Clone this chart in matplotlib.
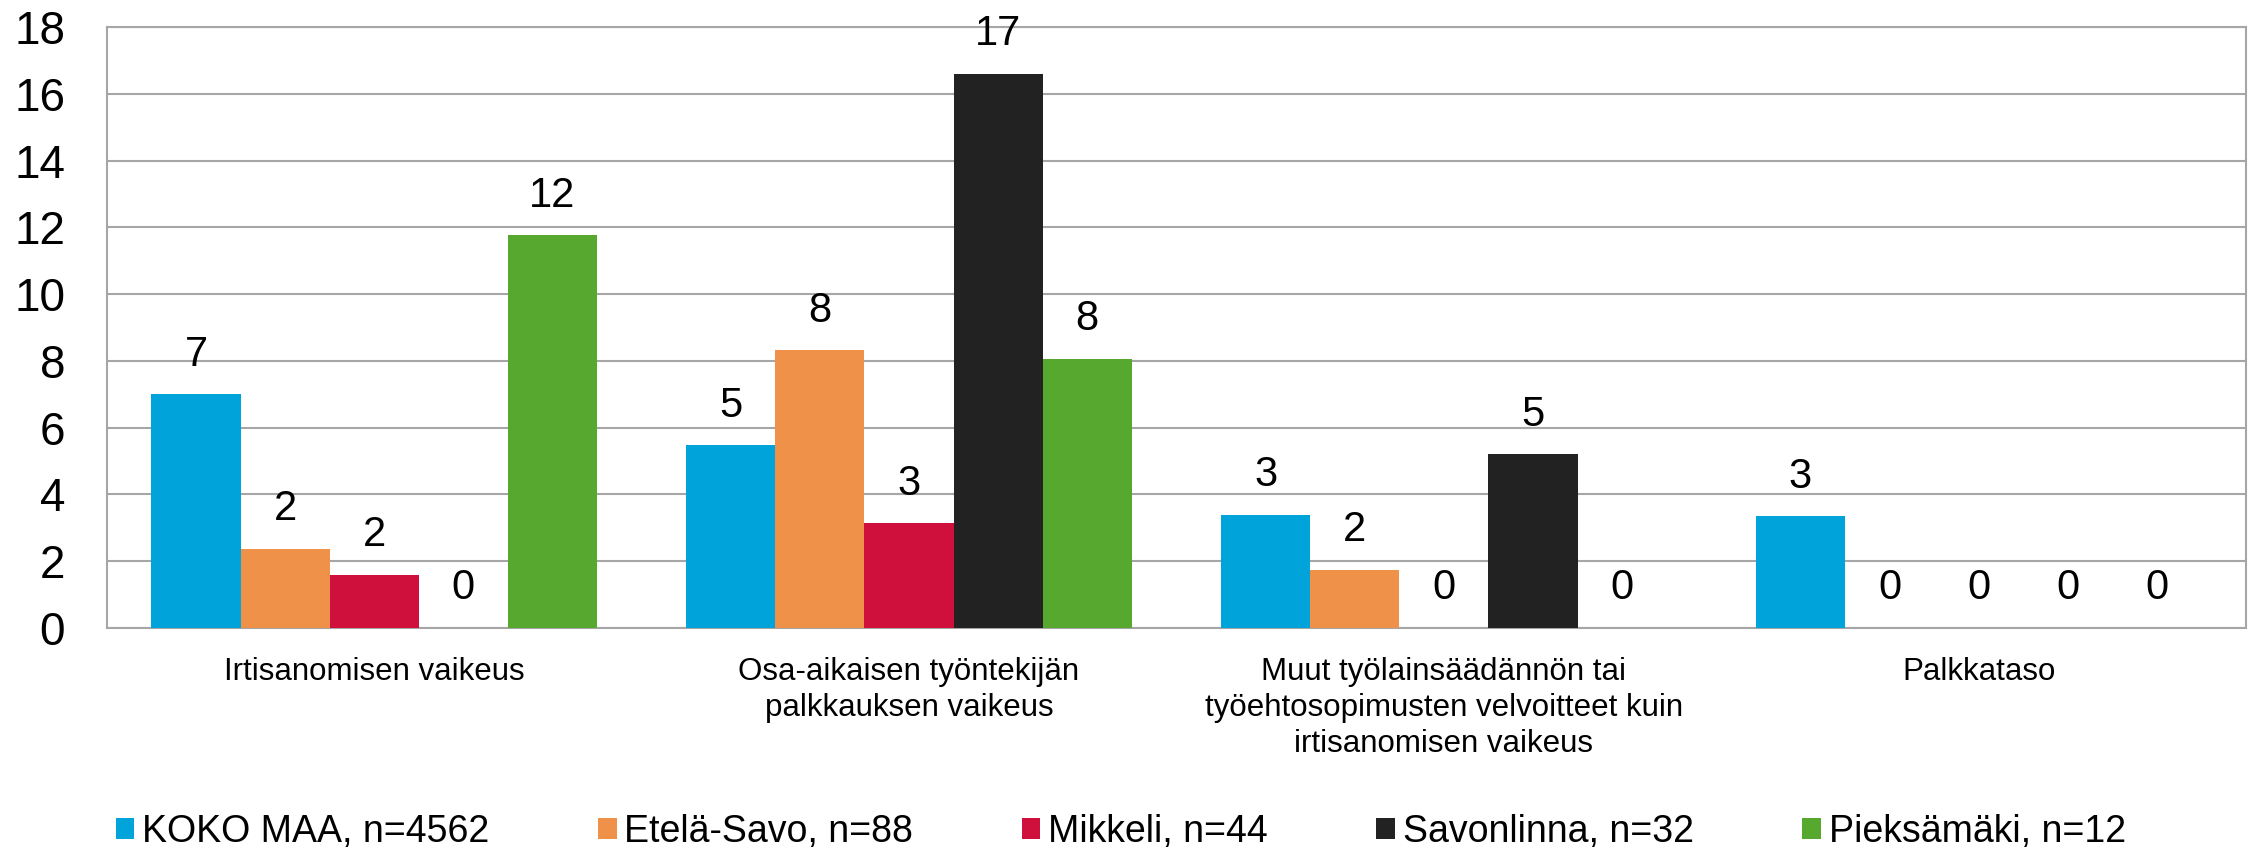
import numpy as np
import matplotlib
matplotlib.use("Agg")
import matplotlib.pyplot as plt

categories = [
    "Irtisanomisen vaikeus",
    "Osa-aikaisen työntekijän\npalkkauksen vaikeus",
    "Muut työlainsäädännön tai\ntyöehtosopimusten velvoitteet kuin\nirtisanomisen vaikeus",
    "Palkkataso",
]
series_names = [
    "KOKO MAA, n=4562",
    "Etelä-Savo, n=88",
    "Mikkeli, n=44",
    "Savonlinna, n=32",
    "Pieksämäki, n=12",
]
koko_maa = [7.0, 5.47, 3.39, 3.34]
etela_savo = [2.37, 8.33, 1.75, 0.0]
mikkeli = [1.59, 3.14, 0.0, 0.0]
savonlinna = [0.0, 16.61, 5.21, 0.0]
pieksamaki = [11.76, 8.07, 0.0, 0.0]
yticks = [0, 2, 4, 6, 8, 10, 12, 14, 16, 18]

colors = ["#00A3DA", "#F0914A", "#D0103C", "#222222", "#57A82E"]

plt.rcParams["font.family"] = ["Liberation Sans", "DejaVu Sans"]

fig = plt.figure(figsize=(22.55, 8.52), dpi=100)
ax = fig.add_axes([0.0474, 0.263, 0.9486, 0.705])

x = np.arange(len(categories))
w = 1 / 6
all_series = [koko_maa, etela_savo, mikkeli, savonlinna, pieksamaki]
for i, (vals, name, c) in enumerate(zip(all_series, series_names, colors)):
    bars = ax.bar(x + (i - 2) * w, vals, w, color=c, label=name, zorder=3)
    ax.bar_label(bars, labels=[f"{round(v):d}" for v in vals],
                 padding=14, fontsize=30)

ax.set_xlim(-0.5, len(categories) - 0.5)
ax.set_ylim(0, 18)
ax.set_yticks(yticks)
ax.set_xticks(x)
ax.set_xticklabels(categories, fontsize=22.5, linespacing=1.25)
ax.tick_params(axis="x", length=0, pad=21)
ax.tick_params(axis="y", length=0, pad=30, labelsize=33)
ax.yaxis.grid(True, color="#A6A6A6", linewidth=1.5, zorder=0)
for s in ax.spines.values():
    s.set_color("#A6A6A6")
    s.set_linewidth(1.5)

fig.legend(loc="center", bbox_to_anchor=(0.497, 0.024), ncol=5, frameon=False,
           fontsize=27, handlelength=0.5, handleheight=0.5,
           handletextpad=0.2, columnspacing=2.9)

fig.savefig("out.png", dpi=100)
